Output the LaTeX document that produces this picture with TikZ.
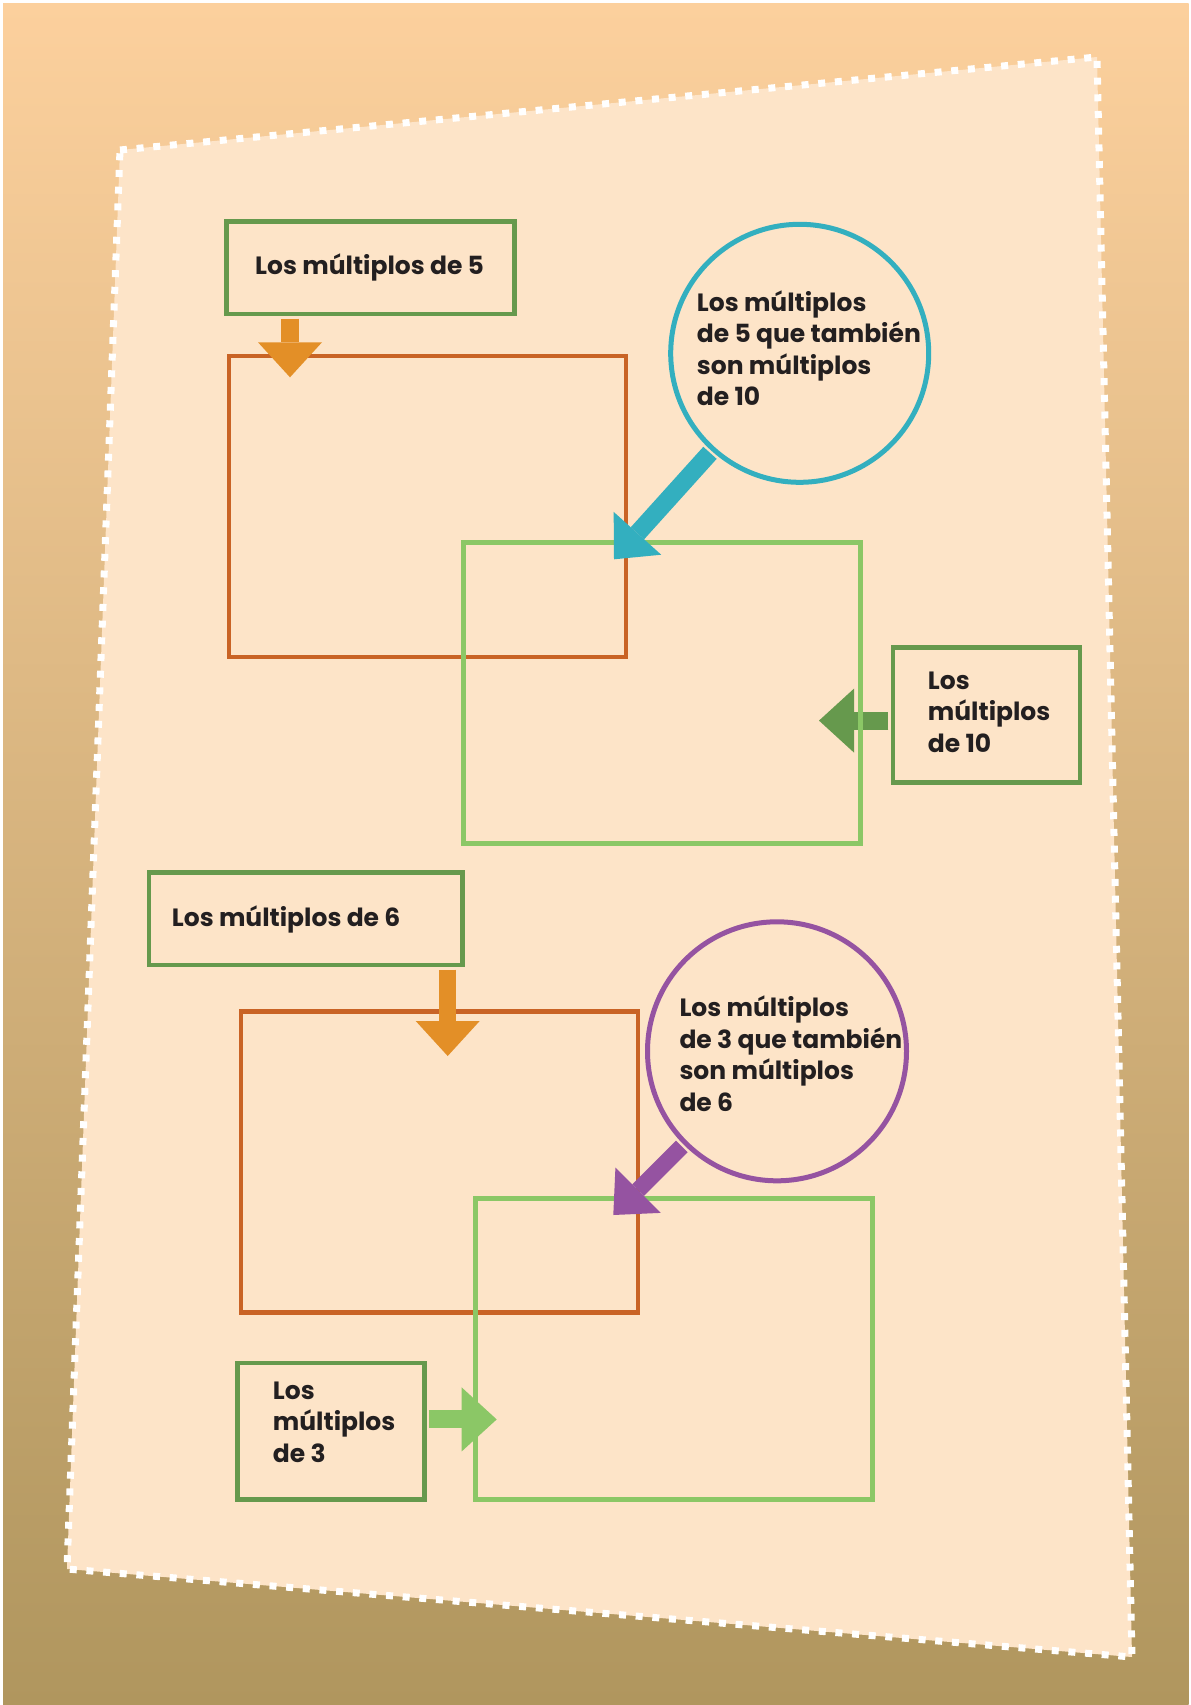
\documentclass[tikz,border=0pt]{standalone}
\usepackage{fontspec}
\setmainfont{Poppins}
\usetikzlibrary{arrows.meta}
\definecolor{bgtop}{RGB}{252,208,157}
\definecolor{bgbot}{RGB}{176,150,94}
\definecolor{paper}{RGB}{253,228,200}
\definecolor{dkgreen}{RGB}{102,153,77}
\definecolor{ltgreen}{RGB}{139,199,102}
\definecolor{rust}{RGB}{201,99,37}
\definecolor{amber}{RGB}{227,143,39}
\definecolor{cyanc}{RGB}{51,175,191}
\definecolor{purp}{RGB}{149,83,161}
\definecolor{ink}{RGB}{35,31,32}
\begin{document}
\begin{tikzpicture}[x=1pt,y=-1pt,
  labelbox/.style={draw=dkgreen, line width=4.6pt, rectangle, inner sep=0pt},
  setbox/.style={rectangle, line width=4.6pt, inner sep=0pt, minimum width=397pt, minimum height=301pt},
  bubble/.style={circle, line width=5pt, fill=paper, inner sep=0pt, minimum size=258pt},
  txt/.style={font=\fontsize{25}{31.5}\selectfont\bfseries, text=ink, inner sep=0pt, anchor=base west},
  fatarrow/.style={line width=18pt, -{Triangle[length=35pt 0 0,width=64pt 0 0,line width=0pt 0 0]}},
]
\useasboundingbox (0,0) rectangle (1191,1705);
% background
\fill[white] (0,0) rectangle (1191,1705);
\shade[top color=bgtop, bottom color=bgbot] (3,3) rectangle (1188.7,1705);
\filldraw[fill=paper, draw=white, line width=7pt, dash pattern=on 7pt off 9.7pt]
  (120,150) -- (1097,57) -- (1132,1657) -- (67,1569) -- cycle;
% set rectangles
\node[setbox, draw=rust] (r1) at (427.3,506.35) {};
\node[setbox, draw=rust] (r2) at (439.65,1162.2) {};
% label boxes
\node[labelbox, minimum width=288pt, minimum height=92.3pt] (b5) at (370.5,267.85) {};
\node[labelbox, minimum width=187pt, minimum height=135.4pt] (b10) at (986.5,715) {};
\node[labelbox, minimum width=313.7pt, minimum height=92.7pt] (b6) at (305.85,918.65) {};
\node[labelbox, minimum width=187pt, minimum height=136.3pt] (b3) at (330.8,1431.15) {};
\node[txt] (b5t) at (255,274) {Los múltiplos de 5};
\node[txt] (b10t) at (927.7,689.3) {\begin{tabular}[t]{@{}l@{}}Los\\múltiplos\\de 10\end{tabular}};
\node[txt] (b6t) at (171.7,926.7) {Los múltiplos de 6};
\node[txt] (b3t) at (272.7,1399.3) {\begin{tabular}[t]{@{}l@{}}Los\\múltiplos\\de 3\end{tabular}};
% arrow tips
\coordinate (t1) at (290,377.3);
\coordinate (t2) at (614,559.3);
\coordinate (t3) at (819,720.6);
\coordinate (t4) at (613.3,1215);
\coordinate (t5) at (496.7,1419.4);
\coordinate (t6) at (447.7,1056);
% dark green arrow under the light green set
\draw[fatarrow, dkgreen, shorten <=2.3pt] (t3 -| b10.west) -- (t3);
\node[setbox, draw=ltgreen] (g1) at (662,693.25) {};
\node[setbox, draw=ltgreen] (g2) at (674.05,1348.75) {};
% orange and light green arrows
\draw[fatarrow, amber, shorten <=2.3pt] (b5.south -| t1) -- (t1);
\draw[fatarrow, amber, line width=16.5pt, shorten <=2.3pt] (b6.south -| t6) -- (t6);
\draw[fatarrow, ltgreen, shorten <=2.3pt] (t5 -| b3.east) -- (t5);
% bubbles
\node[bubble, draw=cyanc] (c1) at (799.7,353.3) {};
\node[bubble, draw=purp, minimum size=259pt] (c2) at (777,1051.3) {};
\node[txt] (c1t) at (696.7,311) {\begin{tabular}[t]{@{}l@{}}Los múltiplos\\de 5 que también\\son múltiplos\\de 10\end{tabular}};
\node[txt] (c2t) at (679.3,1016.7) {\begin{tabular}[t]{@{}l@{}}Los múltiplos\\de 3 que también\\son múltiplos\\de 6\end{tabular}};
\draw[fatarrow, cyanc, shorten <=2.5pt] (c1) -- (t2);
\draw[fatarrow, purp, line width=16.5pt, shorten <=2.5pt] (c2) -- (t4);
\end{tikzpicture}
\end{document}
